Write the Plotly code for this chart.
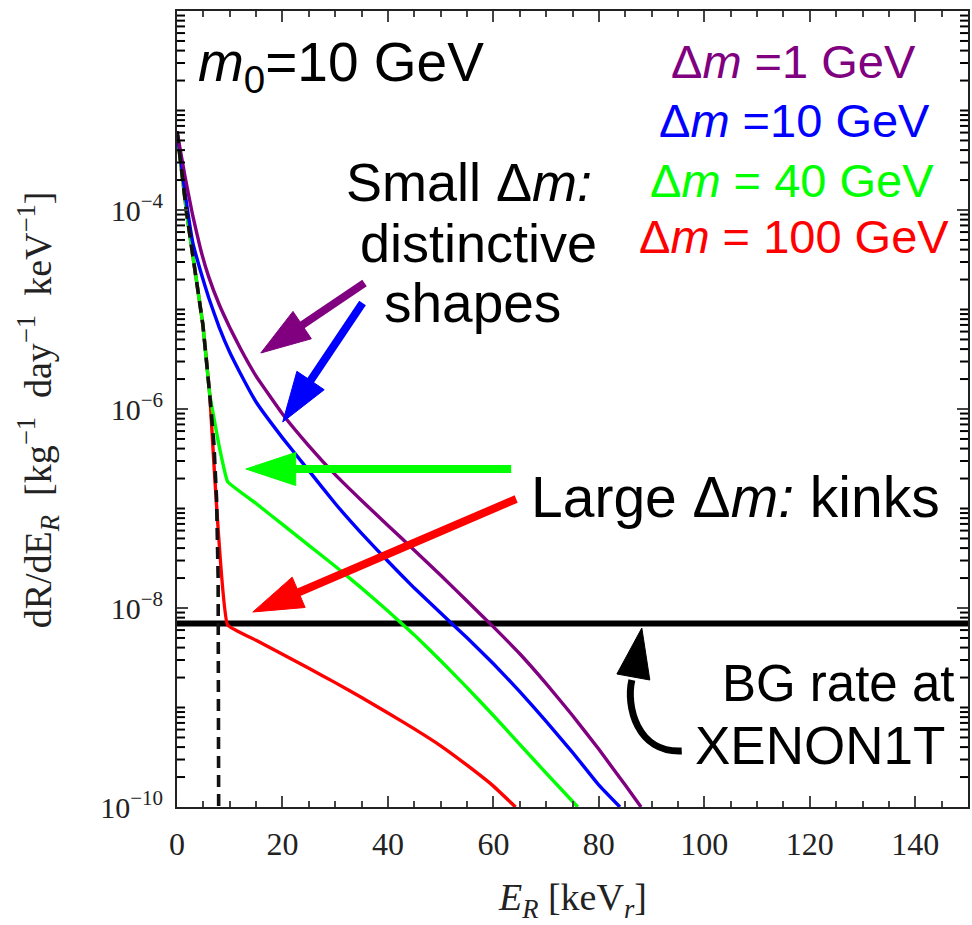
import numpy as np
import plotly.graph_objects as go

# Recoil-energy spectra for m0 = 10 GeV: E_R in keV_r, log10 of dR/dE_R
e_dm1 = [0, 1.5, 3, 4.5, 6, 8, 10, 12, 15, 20, 25, 30, 35, 40, 45, 50, 55, 60, 65, 70, 75,
         80, 85, 88]
log_dm1 = [-3.21, -3.66, -4.06, -4.40, -4.67, -4.95, -5.18, -5.39, -5.67, -6.05, -6.37,
           -6.66, -6.92, -7.17, -7.42, -7.67, -7.93, -8.19, -8.46, -8.76, -9.08, -9.42,
           -9.78, -10.0]

e_dm10 = [0, 1.5, 3, 4.5, 6, 8, 10, 12, 15, 20, 25, 30, 35, 40, 45, 50, 55, 60, 65, 70, 75,
          80, 84]
log_dm10 = [-3.21, -3.82, -4.33, -4.62, -4.88, -5.18, -5.43, -5.64, -5.93, -6.29, -6.62,
            -6.95, -7.25, -7.53, -7.80, -8.05, -8.30, -8.56, -8.84, -9.14, -9.45, -9.78,
            -10.0]

e_dm40 = [0, 1.8, 3, 4.9, 6.2, 8.1, 9.6, 15, 20, 25, 30, 35, 40, 45, 50, 55, 60, 65, 70, 76]
log_dm40 = [-3.21, -4.02, -4.46, -5.15, -5.85, -6.40, -6.73, -6.95, -7.16, -7.37, -7.58,
            -7.80, -8.03, -8.27, -8.53, -8.80, -9.08, -9.37, -9.66, -10.0]

e_dm100 = [0, 1.8, 3, 4.9, 6.2, 9.6, 15, 20, 25, 30, 35, 40, 45, 50, 55, 60, 64.2]
log_dm100 = [-3.21, -4.02, -4.46, -5.15, -5.85, -8.17, -8.325, -8.465, -8.605, -8.75, -8.90,
             -9.055, -9.215, -9.385, -9.58, -9.79, -10.0]

# elastic reference spectrum, cut off at its kinematic endpoint
e_elastic = [0, 1.8, 3, 4.9, 6.2, 7.0, 7.5, 7.8, 7.9]
log_elastic = [-3.21, -4.02, -4.46, -5.15, -5.85, -6.35, -6.90, -7.70, -10.0]

bg_rate = 7.0e-9          # XENON1T background, kg^-1 day^-1 keV^-1
x_span = [0, 150]
y_span = [-10, -2]
y_major = [1e-10, 1e-8, 1e-6, 1e-4]
y_major_text = ["10<sup>−10</sup>", "10<sup>−8</sup>", "10<sup>−6</sup>", "10<sup>−4</sup>"]
# minor ticks: every 1..9 x 10^k that is not already a labelled major tick
y_minor_exp = [(m, k) for k in range(-10, -2) for m in range(1, 10)
               if not (m == 1 and k % 2 == 0)]

series = [
    ("Δm = 100 GeV", e_dm100, log_dm100, "#ff0000"),
    ("Δm = 40 GeV", e_dm40, log_dm40, "#00ff00"),
    ("Δm = 10 GeV", e_dm10, log_dm10, "#0000ff"),
    ("Δm = 1 GeV", e_dm1, log_dm1, "#800080"),
]

fig = go.Figure()

fig.add_trace(go.Scatter(x=x_span, y=[bg_rate, bg_rate], mode="lines",
                         line=dict(color="black", width=6), showlegend=False,
                         hoverinfo="skip"))
for name, e, lg, col in series:
    fig.add_trace(go.Scatter(x=e, y=np.power(10.0, lg), mode="lines", name=name,
                             line=dict(color=col, width=3.4, shape="spline", smoothing=0.3),
                             showlegend=False))
fig.add_trace(go.Scatter(x=e_elastic, y=np.power(10.0, log_elastic), mode="lines",
                         line=dict(color="#111", width=3.6, dash="12px,7px"),
                         showlegend=False))

# plot-area geometry in pixels, used for the callout arrows, text and minor ticks
W, H = 972, 925
L, R, T, B = 177, 970, 11, 807


def pp(px, py):
    return (px - L) / (R - L), (B - py) / (B - T)


shapes = []

# minor y ticks on the left and right frame edges
tick_w = 8.0 / (R - L)
for m, k in y_minor_exp:
    yp = float((np.log10(m) + k - y_span[0]) / (y_span[1] - y_span[0]))
    shapes.append(dict(type="line", xref="paper", yref="paper", x0=0.0, x1=tick_w,
                       y0=yp, y1=yp, layer="above", line=dict(color="black", width=2)))
    shapes.append(dict(type="line", xref="paper", yref="paper", x0=1.0 - tick_w, x1=1.0,
                       y0=yp, y1=yp, layer="above", line=dict(color="black", width=2)))


def arrow(tail, tip, color, width=8, head_len=50, head_w=33):
    tx, ty = tail
    hx, hy = tip
    dx, dy = hx - tx, hy - ty
    n = (dx * dx + dy * dy) ** 0.5
    ux, uy = dx / n, dy / n
    bx, by = hx - ux * head_len, hy - uy * head_len
    nx, ny = -uy, ux
    a = pp(tx, ty)
    b = pp(bx + ux * 3, by + uy * 3)
    shapes.append(dict(type="line", xref="paper", yref="paper", x0=a[0], y0=a[1],
                       x1=b[0], y1=b[1], line=dict(color=color, width=width)))
    p1 = pp(hx, hy)
    p2 = pp(bx + nx * head_w / 2, by + ny * head_w / 2)
    p3 = pp(bx - nx * head_w / 2, by - ny * head_w / 2)
    path = f"M {p1[0]},{p1[1]} L {p2[0]},{p2[1]} L {p3[0]},{p3[1]} Z"
    shapes.append(dict(type="path", xref="paper", yref="paper", path=path,
                       fillcolor=color, line=dict(color=color, width=1)))


arrow((365, 283), (261, 353), "#800080")
arrow((363, 303), (283, 422), "#0000ff")
arrow((512, 469), (246, 469), "#00ff00")
arrow((517, 499), (253, 612), "#ff0000")

# curved arrow pointing up at the background line
c0, c1, c2, c3 = pp(683, 751), pp(638, 753), pp(627, 706), pp(633, 680)
shapes.append(dict(type="path", xref="paper", yref="paper",
                   path=f"M {c0[0]},{c0[1]} C {c1[0]},{c1[1]} {c2[0]},{c2[1]} {c3[0]},{c3[1]}",
                   line=dict(color="black", width=7)))
h1, h2, h3 = pp(643, 628), pp(618, 674), pp(651, 680)
shapes.append(dict(type="path", xref="paper", yref="paper",
                   path=f"M {h1[0]},{h1[1]} L {h2[0]},{h2[1]} L {h3[0]},{h3[1]} Z",
                   fillcolor="black", line=dict(color="black", width=1)))

annotations = []


def label(text, px, py, size, color="black", xanchor="center"):
    x, y = pp(px, py)
    annotations.append(dict(text=text, x=x, y=y, xref="paper", yref="paper",
                            xanchor=xanchor, yanchor="middle", showarrow=False,
                            font=dict(family="Liberation Sans, Arial", size=size, color=color)))


label("<i>m</i><sub>0</sub>=10 GeV", 196, 66, 55, xanchor="left")
label("Δ<i>m</i> =1 GeV", 795, 62, 47, "#800080")
label("Δ<i>m</i> =10 GeV", 796, 121, 47, "#0000ff")
label("Δ<i>m</i> = 40 GeV", 794, 180, 47, "#00ff00")
label("Δ<i>m</i> = 100 GeV", 796, 237, 47, "#ff0000")
label("Small Δ<i>m:</i>", 470, 182, 54)
label("distinctive", 479, 243, 54)
label("shapes", 473, 303, 55)
label("Large Δ<i>m:</i> kinks", 737, 497, 57)
label("BG rate at", 840, 683, 51)
label("XENON1T", 822, 745, 53)

# axis titles
serif = "Liberation Serif, Times New Roman"
xt = pp(574, 900)
annotations.append(dict(text="<i>E<sub>R</sub></i> [keV<sub><i>r</i></sub>]", x=xt[0], y=xt[1],
                        xref="paper", yref="paper", xanchor="center", yanchor="middle",
                        showarrow=False, font=dict(family=serif, size=38, color="#222")))
yt = pp(38, 410)
annotations.append(dict(text="dR/dE<sub><i>R</i></sub>  [kg<sup>−1</sup>  day<sup>−1</sup>  keV<sup>−1</sup>]",
                        x=yt[0], y=yt[1], xref="paper", yref="paper", xanchor="center",
                        yanchor="middle", showarrow=False, textangle=-90,
                        font=dict(family=serif, size=38, color="#222")))

fig.update_layout(
    width=W, height=H,
    margin=dict(l=L, r=W - R, t=T, b=H - B),
    paper_bgcolor="white", plot_bgcolor="white",
    shapes=shapes, annotations=annotations,
    showlegend=False,
)
fig.update_xaxes(range=x_span, dtick=20, tick0=0, ticks="inside", ticklen=11, tickwidth=2,
                 showline=True, linecolor="#222", linewidth=2, mirror="allticks",
                 showgrid=False, zeroline=False, ticklabelstandoff=8,
                 tickfont=dict(family=serif, size=32, color="#222"),
                 minor=dict(dtick=5, ticks="inside", ticklen=6, tickwidth=2, showgrid=False))
fig.update_yaxes(type="log", range=y_span, tickmode="array", tickvals=y_major,
                 ticktext=y_major_text, ticks="inside", ticklen=11, tickwidth=2,
                 showline=True, linecolor="#222", linewidth=2, mirror="allticks",
                 showgrid=False, zeroline=False, ticklabelstandoff=6,
                 tickfont=dict(family=serif, size=30, color="#222"))

fig.write_html("out.html")
